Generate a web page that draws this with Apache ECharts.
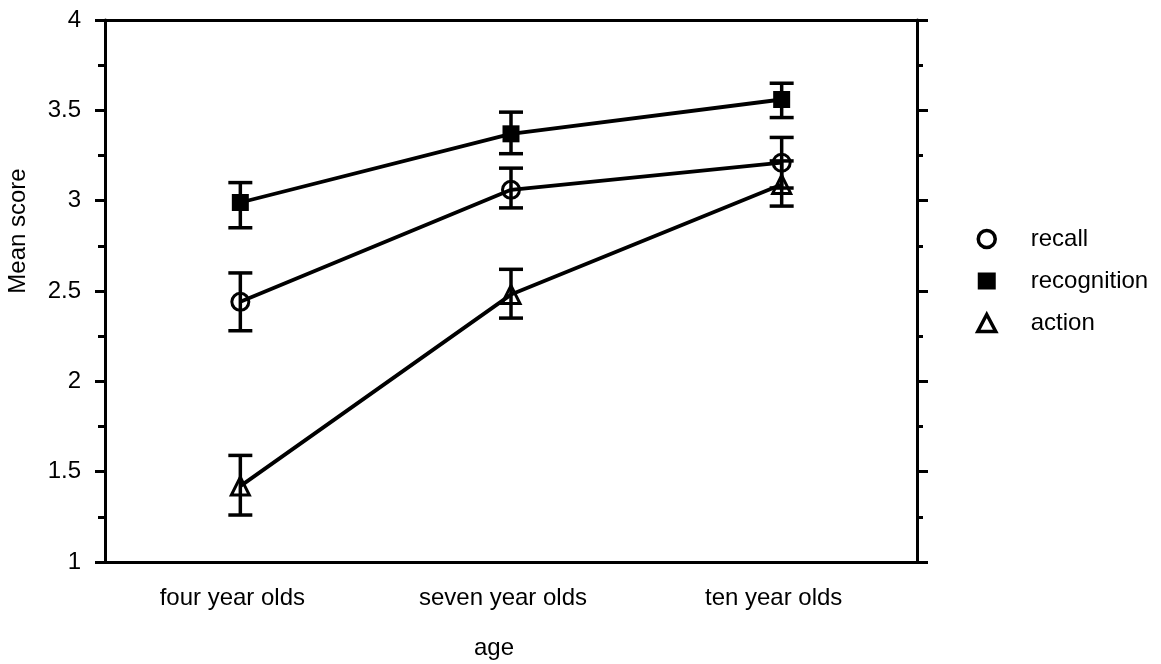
<!DOCTYPE html>
<html>
<head>
<meta charset="utf-8">
<script src="https://cdn.jsdelivr.net/npm/echarts@6/dist/echarts.min.js"></script>
<style>html,body{margin:0;padding:0;background:#fff;}#c{width:1161px;height:664px;}</style>
</head>
<body>
<div id="c"></div>
<script>
const categories = ['four year olds', 'seven year olds', 'ten year olds'];
const recall = [2.44, 3.06, 3.21];
const recallLow = [2.28, 2.96, 3.07];
const recallHigh = [2.60, 3.18, 3.35];
const recognition = [2.99, 3.37, 3.56];
const recognitionLow = [2.85, 3.26, 3.46];
const recognitionHigh = [3.10, 3.49, 3.65];
const action = [1.42, 2.48, 3.09];
const actionLow = [1.26, 2.35, 2.97];
const actionHigh = [1.59, 2.62, 3.22];
const seriesNames = ['recall', 'recognition', 'action'];

const FONT = '"Liberation Sans", Arial, Helvetica, sans-serif';
const chart = echarts.init(document.getElementById('c'), null, {renderer: 'canvas'});

function errData(lo, hi) { return lo.map((v, i) => [i, v, hi[i]]); }
function renderErr(params, api) {
  const x = api.value(0);
  const lo = api.coord([x, api.value(1)]);
  const hi = api.coord([x, api.value(2)]);
  const w = 12;
  const st = {stroke: '#000', lineWidth: 3.5};
  return {type: 'group', children: [
    {type: 'line', shape: {x1: lo[0], y1: lo[1], x2: hi[0], y2: hi[1]}, style: st},
    {type: 'line', shape: {x1: lo[0]-w, y1: lo[1], x2: lo[0]+w, y2: lo[1]}, style: st},
    {type: 'line', shape: {x1: hi[0]-w, y1: hi[1], x2: hi[0]+w, y2: hi[1]}, style: st}
  ]};
}
const openStyle = {color: 'rgba(255,255,255,0)', borderColor: '#000', borderWidth: 3};
const lineSeries = (name, data, symbol, size, itemStyle) => ({
  name, type: 'line', data, symbol, symbolSize: size,
  lineStyle: {color: '#000', width: 3.8},
  itemStyle, z: 3, animation: false, silent: true
});
const errSeries = (name, lo, hi) => ({
  name: name + ' err', type: 'custom', data: errData(lo, hi), renderItem: renderErr,
  z: 4, animation: false, silent: true
});

const yCommon = {
  type: 'value', min: 1, max: 4, interval: 0.5,
  splitLine: {show: false},
  axisLine: {show: true, lineStyle: {color: '#000', width: 3}},
  minorTick: {show: true, splitNumber: 2, length: 7, lineStyle: {color: '#000', width: 3}},
  minorSplitLine: {show: false}
};

chart.setOption({
  backgroundColor: '#fff',
  animation: false,
  grid: {left: 105, right: 244, top: 20, bottom: 102, containLabel: false, outerBoundsMode: 'none'},
  legend: {
    orient: 'vertical', left: 971, top: 222, itemWidth: 18, itemHeight: 17, itemGap: 18,
    textStyle: {fontFamily: FONT, fontSize: 24, color: '#000', padding: [0, 0, 0, 30]},
    selectedMode: false,
    data: [
      {name: 'recall', icon: 'circle', itemStyle: {color: '#fff', borderColor: '#000', borderWidth: 3.5}},
      {name: 'recognition', icon: 'rect', itemStyle: {color: '#000', borderWidth: 0}},
      {name: 'action', icon: 'triangle', itemStyle: {color: '#fff', borderColor: '#000', borderWidth: 3.5}}
    ]
  },
  xAxis: [
    {
      type: 'category', data: categories, position: 'bottom', boundaryGap: true,
      name: 'age', nameLocation: 'middle', nameGap: 74,
      nameTextStyle: {fontFamily: FONT, fontSize: 24, color: '#000', padding: [0, 34, 0, 0]},
      axisLine: {lineStyle: {color: '#000', width: 3}},
      axisTick: {alignWithLabel: true, length: 10, lineStyle: {color: '#000', width: 3}},
      axisLabel: {fontFamily: FONT, fontSize: 24, color: '#000', margin: 24, padding: [0, 16, 0, 0]}
    },
    {
      type: 'category', data: categories, position: 'top', boundaryGap: true,
      axisLine: {lineStyle: {color: '#000', width: 3}},
      axisTick: {alignWithLabel: true, length: 9, lineStyle: {color: '#000', width: 3}},
      axisLabel: {show: false}
    }
  ],
  yAxis: [
    Object.assign({}, yCommon, {
      position: 'left', name: 'Mean score', nameLocation: 'middle', nameGap: 75,
      nameTextStyle: {fontFamily: FONT, fontSize: 24, color: '#000', padding: [0, 0, 0, 120]},
      axisTick: {show: true, length: 10, lineStyle: {color: '#000', width: 3}},
      axisLabel: {fontFamily: FONT, fontSize: 24, color: '#000', margin: 24}
    }),
    Object.assign({}, yCommon, {
      position: 'right',
      axisTick: {show: true, length: 11, lineStyle: {color: '#000', width: 3}},
      minorTick: {show: true, splitNumber: 2, length: 6, lineStyle: {color: '#000', width: 3}},
      axisLabel: {show: false}
    })
  ],
  series: [
    lineSeries('recall', recall, 'circle', 17, openStyle),
    lineSeries('recognition', recognition, 'rect', 17, {color: '#000'}),
    lineSeries('action', action, 'triangle', 18, openStyle),
    errSeries('recall', recallLow, recallHigh),
    errSeries('recognition', recognitionLow, recognitionHigh),
    errSeries('action', actionLow, actionHigh)
  ]
});
</script>
</body>
</html>
